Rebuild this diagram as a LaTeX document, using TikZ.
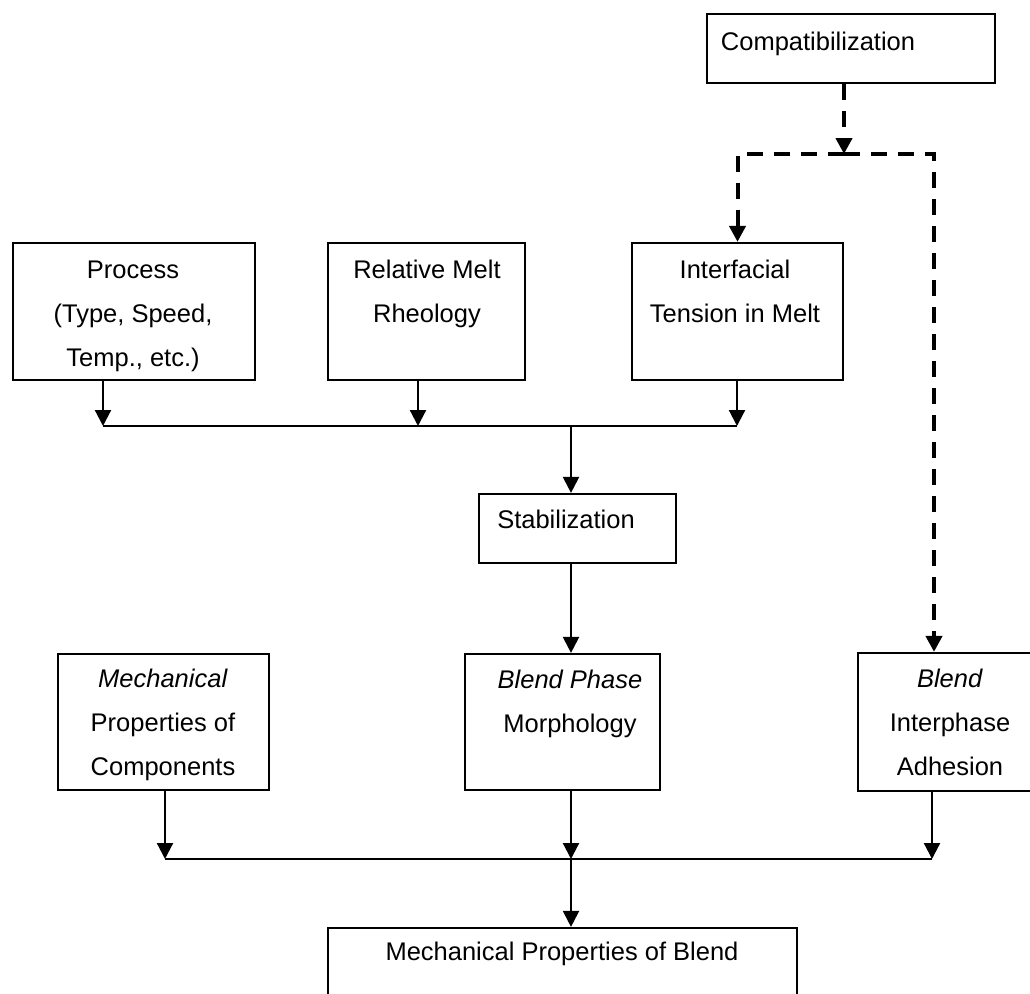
\documentclass[tikz,border=0pt]{standalone}
\usepackage{fontspec}
\setmainfont{Liberation Sans}
\usetikzlibrary{arrows.meta}
\begin{document}
\begin{tikzpicture}[x=1pt,y=-1pt,
  box/.style={draw, line width=2.2pt, inner sep=0pt, minimum width=#1},
  txt/.style={font=\fontsize{25.5}{44}\selectfont, align=center, inner sep=0pt},
  conn/.style={line width=2.2pt, -{Triangle[width=16pt,length=16pt]}},
  bus/.style={line width=2.2pt},
  dsh/.style={line width=4pt, dash pattern=on 16pt off 11pt},
  dsharr/.style={dsh, -{Triangle[width=16pt,length=16pt]}}]
\useasboundingbox (0,0) rectangle (1030,993);
\clip (0,0) rectangle (1030,993);
% boxes
\node[box=288pt, minimum height=69pt]  (comp)   at (851,48.5) {};
\node[box=242pt, minimum height=137pt] (proc)   at (134,311.5) {};
\node[box=197pt, minimum height=137pt] (rel)    at (426.5,311.5) {};
\node[box=211pt, minimum height=137pt] (intf)   at (737.5,311.5) {};
\node[box=197pt, minimum height=69pt]  (stab)   at (577.5,528.5) {};
\node[box=211pt, minimum height=136pt] (mech)   at (163.5,722) {};
\node[box=195pt, minimum height=136pt] (bphase) at (562.5,722) {};
\node[box=192pt, minimum height=138pt] (binter) at (954,722) {};
\node[box=469pt, minimum height=82pt]  (mblend) at (562.5,969) {};
% texts
\node[txt] (comp-t)   at (818,42)    {\strut Compatibilization};
\node[txt] (proc-t)   at (133,314)   {\strut Process\\\strut (Type, Speed,\\\strut Temp., etc.)};
\node[txt] (rel-t)    at (427,291.5) {\strut Relative Melt\\\strut Rheology};
\node[txt] (intf-t)   at (735,291.5) {\strut Interfacial\\\strut Tension in Melt};
\node[txt] (stab-t)   at (566,520)   {\strut Stabilization};
\node[txt] (mech-t)   at (163,723)   {\strut\textit{Mechanical}\\\strut Properties of\\\strut Components};
\node[txt] (bphase-t) at (570,701.5) {\strut\textit{Blend Phase}\\\strut Morphology};
\node[txt] (binter-t) at (950,723)   {\strut\textit{Blend}\\\strut Interphase\\\strut Adhesion};
\node[txt] (mblend-t) at (562,952)   {\strut Mechanical Properties of Blend};
% upper bus
\coordinate (u1) at (103,426);
\coordinate (u2) at (418,426);
\coordinate (u3) at (737,426);
\coordinate (uc) at (571,426);
\draw[bus] (u1) -- (u3);
\draw[conn] (proc.south -| u1) -- (u1);
\draw[conn] (rel.south -| u2) -- (u2);
\draw[conn] (intf.south -| u3) -- (u3);
\draw[conn] (uc) -- (stab.north -| uc);
\draw[conn] (stab.south -| uc) -- (bphase.north -| uc);
% lower bus
\coordinate (l1) at (165,859);
\coordinate (lc) at (571,859);
\coordinate (l3) at (932,859);
\draw[bus] (l1) -- (l3);
\draw[conn] (mech.south -| l1) -- (l1);
\draw[conn] (bphase.south -| lc) -- (lc);
\draw[conn] (binter.south -| l3) -- (l3);
\draw[conn] (lc) -- (mblend.north -| lc);
% dashed
\coordinate (dj) at (844,154);
\coordinate (dr) at (934,154);
\draw[dsharr] (comp.south -| dj) -- (dj);
\draw[dsharr] (dj) -| (intf.north);
\draw[dsharr] (dj) -| (binter.north -| dr);
\end{tikzpicture}
\end{document}
